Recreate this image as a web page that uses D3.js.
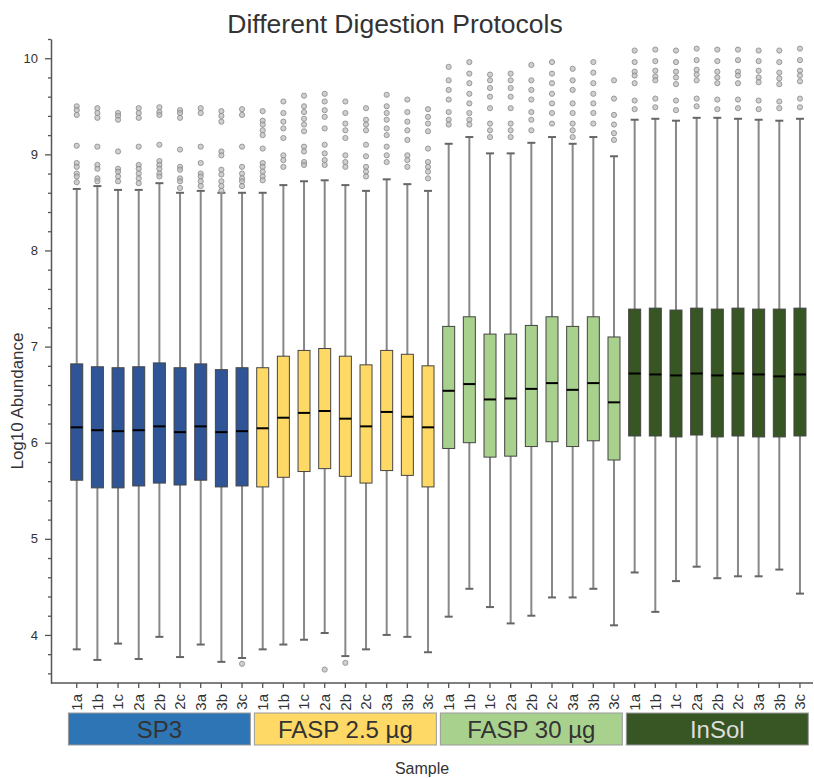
<!DOCTYPE html>
<html lang="en">
<head>
  <meta charset="UTF-8">
  <title>Different Digestion Protocols</title>
  <script src="https://d3js.org/d3.v7.min.js"></script>
  <style>
    body { margin: 0; background: #fff; }
    text { font-family: "Liberation Sans", Arial, sans-serif; }
  </style>
</head>
<body>
  <svg width="814" height="778"></svg>

  <script>
    // sample labels, 9 per protocol
    const samples = ["1a","1b","1c","2a","2b","2c","3a","3b","3c"];
    const groups = ["SP3", "FASP 2.5 µg", "FASP 30 µg", "InSol"];

    // box stats (log10 abundance)
    const whiskLo = [
      3.85, 3.74, 3.91, 3.75, 3.98, 3.77, 3.90, 3.72, 3.76,
      3.85, 3.90, 3.95, 4.02, 3.78, 3.85, 4.00, 3.98, 3.82,
      4.19, 4.48, 4.29, 4.12, 4.20, 4.39, 4.39, 4.48, 4.10,
      4.65, 4.24, 4.56, 4.71, 4.59, 4.61, 4.61, 4.68, 4.43
    ];
    const q1 = [
      5.61, 5.53, 5.53, 5.55, 5.58, 5.56, 5.61, 5.54, 5.55,
      5.54, 5.64, 5.70, 5.73, 5.65, 5.58, 5.71, 5.66, 5.54,
      5.94, 6.00, 5.85, 5.86, 5.96, 6.01, 5.96, 6.02, 5.82,
      6.07, 6.07, 6.06, 6.08, 6.06, 6.07, 6.06, 6.06, 6.07
    ];
    const median = [
      6.16, 6.13, 6.12, 6.13, 6.17, 6.11, 6.17, 6.11, 6.12,
      6.15, 6.26, 6.31, 6.33, 6.25, 6.17, 6.32, 6.27, 6.16,
      6.54, 6.61, 6.45, 6.46, 6.56, 6.62, 6.55, 6.62, 6.42,
      6.72, 6.71, 6.70, 6.72, 6.70, 6.72, 6.71, 6.69, 6.71
    ];
    const q3 = [
      6.82, 6.79, 6.78, 6.79, 6.83, 6.78, 6.82, 6.76, 6.78,
      6.78, 6.90, 6.96, 6.98, 6.90, 6.81, 6.96, 6.92, 6.80,
      7.21, 7.31, 7.13, 7.13, 7.22, 7.31, 7.21, 7.31, 7.10,
      7.39, 7.40, 7.38, 7.40, 7.39, 7.40, 7.39, 7.39, 7.40
    ];
    const whiskHi = [
      8.64, 8.67, 8.63, 8.63, 8.70, 8.60, 8.62, 8.60, 8.60,
      8.60, 8.68, 8.72, 8.73, 8.68, 8.62, 8.74, 8.69, 8.62,
      9.11, 9.18, 9.01, 9.01, 9.12, 9.18, 9.11, 9.18, 8.98,
      9.36, 9.37, 9.35, 9.38, 9.38, 9.37, 9.36, 9.35, 9.37
    ];
    const outliers = [
      [9.50, 9.46, 9.41, 9.09, 8.91, 8.87, 8.80, 8.77, 8.71],
      [9.48, 9.43, 9.38, 9.08, 8.89, 8.85, 8.75, 8.72],
      [9.43, 9.40, 9.36, 9.03, 8.85, 8.82, 8.77, 8.72],
      [9.48, 9.43, 9.38, 9.08, 8.89, 8.85, 8.80, 8.75, 8.70],
      [9.49, 9.44, 9.41, 9.10, 8.93, 8.89, 8.85, 8.80, 8.77],
      [9.46, 9.43, 9.38, 9.05, 8.87, 8.84, 8.75, 8.72, 8.65],
      [9.48, 9.43, 9.08, 8.91, 8.80, 8.77, 8.72, 8.67],
      [9.45, 9.40, 9.34, 9.03, 8.99, 8.84, 8.79, 8.72, 8.67, 8.62],
      [9.47, 9.41, 9.08, 8.87, 8.80, 8.75, 8.72, 8.67, 3.70],
      [9.45, 9.35, 9.31, 9.25, 9.20, 9.06, 8.91, 8.87, 8.82, 8.77, 8.73],
      [9.55, 9.43, 9.34, 9.27, 9.17, 8.99, 8.94, 8.87],
      [9.61, 9.50, 9.44, 9.37, 9.31, 9.24, 9.08, 9.03, 8.92, 8.89],
      [9.63, 9.55, 9.46, 9.39, 9.27, 9.10, 9.01, 8.94, 8.89, 3.64],
      [9.55, 9.43, 9.32, 9.25, 9.17, 8.99, 8.92, 8.87, 3.71],
      [9.48, 9.36, 9.31, 9.25, 9.10, 8.98, 8.87, 8.82, 8.77],
      [9.62, 9.50, 9.43, 9.36, 9.27, 9.20, 9.08, 8.99, 8.92],
      [9.57, 9.44, 9.34, 9.25, 9.15, 8.99, 8.94, 8.87],
      [9.47, 9.39, 9.32, 9.24, 9.06, 8.92, 8.87, 8.82, 8.75],
      [9.91, 9.77, 9.67, 9.57, 9.44, 9.36, 9.31],
      [9.96, 9.84, 9.74, 9.63, 9.53, 9.43, 9.36, 9.31],
      [9.83, 9.77, 9.69, 9.60, 9.48, 9.32, 9.25, 9.18],
      [9.84, 9.77, 9.69, 9.60, 9.48, 9.32, 9.25, 9.18],
      [9.93, 9.77, 9.67, 9.57, 9.44, 9.36, 9.25],
      [9.96, 9.84, 9.74, 9.63, 9.53, 9.43, 9.32],
      [9.89, 9.77, 9.67, 9.53, 9.43, 9.32, 9.25, 9.18],
      [9.96, 9.85, 9.74, 9.63, 9.53, 9.43, 9.32],
      [9.77, 9.58, 9.41, 9.31, 9.22, 9.15],
      [10.08, 9.96, 9.86, 9.82, 9.74, 9.56, 9.47],
      [10.09, 9.97, 9.87, 9.81, 9.77, 9.58, 9.49],
      [10.08, 9.96, 9.86, 9.80, 9.73, 9.56, 9.46],
      [10.10, 9.98, 9.88, 9.83, 9.77, 9.58, 9.50],
      [10.09, 9.97, 9.86, 9.80, 9.74, 9.57, 9.47],
      [10.09, 9.98, 9.86, 9.82, 9.74, 9.57, 9.48],
      [10.08, 9.97, 9.87, 9.80, 9.75, 9.56, 9.47],
      [10.08, 9.96, 9.85, 9.79, 9.73, 9.55, 9.48],
      [10.10, 9.98, 9.87, 9.82, 9.76, 9.58, 9.49]
    ];
    const majorTicks = [4, 5, 6, 7, 8, 9, 10];

    const boxColors = ["#2F5597", "#FFD966", "#A9D18E", "#375623"];
    const stripColors = ["#2E75B6", "#FFD966", "#A9D18E", "#375623"];
    const stripText = ["#333", "#333", "#333", "#ddd"];

    // build rows
    const data = whiskLo.map((lo, i) => ({
      id: i,
      group: Math.floor(i / 9),
      label: samples[i % 9],
      lo, q1: q1[i], med: median[i], q3: q3[i], hi: whiskHi[i],
      out: outliers[i]
    }));

    const svg = d3.select("svg");
    const axisX = 51, axisY = 683;

    const x = d3.scaleBand()
      .domain(data.map(d => d.id))
      .range([66.4, 810.3])
      .padding(0);

    const y = d3.scaleLinear()
      .domain([3.5, 10.2])
      .range([axisY, 39]);

    const boxW = 12, capW = 8;

    // y axis: minor then major ticks
    const minor = d3.range(36, 103, 2).map(v => v / 10).filter(v => !majorTicks.includes(v));
    svg.append("g")
      .attr("transform", `translate(${axisX},0)`)
      .call(d3.axisLeft(y).tickValues(minor).tickSize(3).tickFormat(""))
      .call(g => g.select(".domain").remove())
      .call(g => g.selectAll("line").attr("stroke", "#555").attr("stroke-width", 1.3));

    svg.append("g")
      .attr("transform", `translate(${axisX},0)`)
      .call(d3.axisLeft(y).tickValues(majorTicks).tickFormat(d3.format("d"))
        .tickSize(6).tickSizeOuter(0).tickPadding(7))
      .call(g => g.select(".domain").attr("stroke", "#555").attr("stroke-width", 1.5))
      .call(g => g.selectAll("line").attr("stroke", "#555").attr("stroke-width", 1.3))
      .call(g => g.selectAll("text").attr("font-size", 13).attr("fill", "#333")
        .style("font-family", "'Liberation Sans', Arial, sans-serif"));

    // x axis
    svg.append("line")
      .attr("x1", axisX).attr("x2", 813)
      .attr("y1", axisY).attr("y2", axisY)
      .attr("stroke", "#555").attr("stroke-width", 1.5);

    svg.append("g")
      .attr("transform", `translate(0,${axisY})`)
      .call(d3.axisBottom(x).tickSize(5).tickFormat(i => data[i].label))
      .call(g => g.select(".domain").remove())
      .call(g => g.selectAll("line").attr("stroke", "#555").attr("stroke-width", 1.3))
      .call(g => g.selectAll("text")
        .attr("transform", "rotate(-90)")
        .attr("x", -11).attr("y", 0).attr("dy", "0.35em")
        .attr("text-anchor", "end")
        .attr("font-size", 15).attr("fill", "#333")
        .style("font-family", "'Liberation Sans', Arial, sans-serif"));

    const cx = d => x(d.id) + x.bandwidth() / 2;

    const box = svg.append("g").selectAll("g")
      .data(data)
      .join("g");

    // whisker stem
    box.append("line")
      .attr("x1", cx).attr("x2", cx)
      .attr("y1", d => y(d.lo)).attr("y2", d => y(d.hi))
      .attr("stroke", "#888").attr("stroke-width", 2);

    // caps
    ["lo", "hi"].forEach(k => {
      box.append("line")
        .attr("x1", d => cx(d) - capW / 2).attr("x2", d => cx(d) + capW / 2)
        .attr("y1", d => y(d[k])).attr("y2", d => y(d[k]))
        .attr("stroke", "#666").attr("stroke-width", 2);
    });

    box.append("rect")
      .attr("x", d => cx(d) - boxW / 2)
      .attr("width", boxW)
      .attr("y", d => y(d.q3))
      .attr("height", d => y(d.q1) - y(d.q3))
      .attr("fill", d => boxColors[d.group])
      .attr("stroke", "#444").attr("stroke-width", 1);

    box.append("line")
      .attr("x1", d => cx(d) - boxW / 2).attr("x2", d => cx(d) + boxW / 2)
      .attr("y1", d => y(d.med)).attr("y2", d => y(d.med))
      .attr("stroke", "#000").attr("stroke-width", 2);

    box.selectAll("circle")
      .data(d => d.out.map(v => ({ v, d })))
      .join("circle")
      .attr("cx", o => cx(o.d))
      .attr("cy", o => y(o.v))
      .attr("r", 2.6)
      .attr("fill", "#bbb").attr("fill-opacity", 0.7)
      .attr("stroke", "#888").attr("stroke-width", 0.8);

    // protocol strip below the axis
    const strip = svg.append("g").selectAll("g")
      .data(groups)
      .join("g");

    strip.append("rect")
      .attr("x", (g, i) => x(i * 9) + 2)
      .attr("width", (g, i) => x(i * 9 + 8) + x.bandwidth() - x(i * 9) - 4)
      .attr("y", 713).attr("height", 32)
      .attr("fill", (g, i) => stripColors[i])
      .attr("stroke", "#999").attr("stroke-width", 1);

    strip.append("text")
      .attr("x", (g, i) => (x(i * 9) + x(i * 9 + 8) + x.bandwidth()) / 2)
      .attr("y", 738)
      .attr("text-anchor", "middle")
      .attr("font-size", 24)
      .attr("fill", (g, i) => stripText[i])
      .text(g => g);

    // titles
    svg.append("text")
      .attr("x", 395).attr("y", 33)
      .attr("text-anchor", "middle")
      .attr("font-size", 26.5).attr("fill", "#333")
      .text("Different Digestion Protocols");

    svg.append("text")
      .attr("x", 422).attr("y", 774)
      .attr("text-anchor", "middle")
      .attr("font-size", 16).attr("fill", "#333")
      .text("Sample");

    svg.append("text")
      .attr("transform", "translate(23,401) rotate(-90)")
      .attr("text-anchor", "middle")
      .attr("font-size", 17).attr("fill", "#333")
      .text("Log10 Abundance");
  </script>
</body>
</html>
